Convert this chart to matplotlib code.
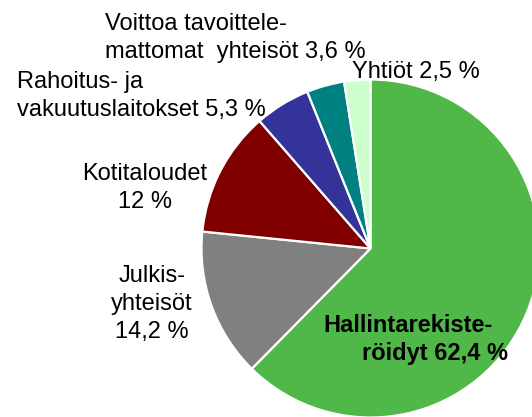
import matplotlib
matplotlib.use("Agg")
import matplotlib.pyplot as plt

# shares of holdings by owner group (%)
sectors = ["Hallintarekisteröidyt", "Julkisyhteisöt", "Kotitaloudet",
           "Rahoitus- ja vakuutuslaitokset",
           "Voittoa tavoittelemattomat yhteisöt", "Yhtiöt"]
shares = [62.4, 14.2, 12.0, 5.3, 3.6, 2.5]
label_texts = ["Hallintarekiste-\nröidyt 62,4 %",
               "Julkis-\nyhteisöt\n14,2 %",
               "Kotitaloudet\n12 %",
               "Rahoitus- ja\nvakuutuslaitokset 5,3 %",
               "Voittoa tavoittele-\nmattomat  yhteisöt 3,6 %",
               "Yhtiöt 2,5 %"]
colors = ["#50b848", "#808080", "#800000", "#333399", "#008080", "#ccffcc"]

W, H = 532, 417
plt.rcParams['font.family'] = ['Liberation Sans', 'DejaVu Sans']

fig = plt.figure(figsize=(W / 100, H / 100), dpi=100)
ax = fig.add_axes([0, 0, 1, 1])

ax.pie(shares, colors=colors, startangle=90, counterclock=False,
       center=(370.5, H - 248.5), radius=169,
       wedgeprops=dict(edgecolor='white', linewidth=1.6))

# label placement: (x, first baseline from top, alignment, bold)
label_pos = [(323, 332, 'left', True),
             (152, 282, 'center', False),
             (145, 180, 'center', False),
             (17, 88, 'left', False),
             (105, 30, 'left', False),
             (352, 78, 'left', False)]

for text, (x, y, ha, bold) in zip(label_texts, label_pos):
    lines = text.split("\n")
    step = 28
    for k, line in enumerate(lines):
        lx = x
        if bold and k == 1:
            lx = 362
        ax.text(lx, H - y - k * step, line, ha=ha, va='baseline',
                fontsize=17, fontweight='bold' if bold else 'normal',
                color='black')

ax.set_xlim(0, W)
ax.set_ylim(0, H)
ax.set_aspect('equal')
ax.axis('off')

fig.savefig("out.png", dpi=100)
